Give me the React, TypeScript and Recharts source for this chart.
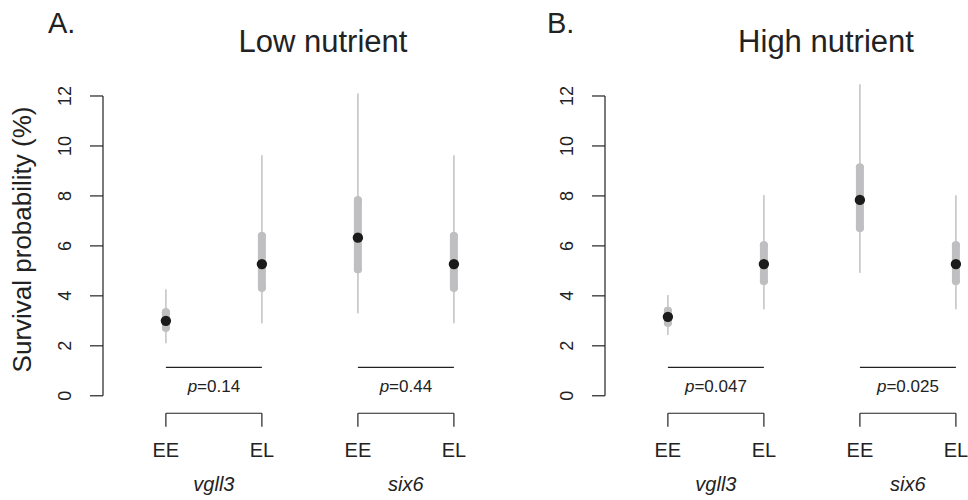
import { ScatterChart, Scatter, XAxis, YAxis, ErrorBar, ReferenceLine } from 'recharts';

const FONT = '"Liberation Sans", Arial, Helvetica, sans-serif';

const X_POS = [1, 2, 3, 4];
const GROUPS = ['EE', 'EL', 'EE', 'EL'];
const GENES = ['vgll3', 'six6'];
const GENE_POS = [1.5, 3.5];
const Y_TICKS = [0, 2, 4, 6, 8, 10, 12];

// low nutrient: mean, 95% and 50% intervals (survival %)
const LOW_MEAN = [3.0, 5.27, 6.33, 5.27];
const LOW_LO95 = [2.1, 2.9, 3.3, 2.9];
const LOW_HI95 = [4.26, 9.63, 12.1, 9.63];
const LOW_LO50 = [2.72, 4.32, 5.06, 4.32];
const LOW_HI50 = [3.34, 6.4, 7.83, 6.4];
const LOW_P = ['0.14', '0.44'];

// high nutrient
const HIGH_MEAN = [3.16, 5.27, 7.84, 5.27];
const HIGH_LO95 = [2.43, 3.46, 4.92, 3.46];
const HIGH_HI95 = [4.03, 8.03, 12.47, 8.03];
const HIGH_LO50 = [2.92, 4.59, 6.72, 4.59];
const HIGH_HI50 = [3.4, 6.03, 9.14, 6.03];
const HIGH_P = ['0.047', '0.025'];

const PANEL_W = 466;
const PANEL_H = 500;
const X_DOMAIN: [number, number] = [0.345, 4.126];
const Y_DOMAIN: [number, number] = [-1.25, 12.6];

// where the comparison line and the bracket sit (data units)
const P_LINE_Y = 1.14;
const BRACKET_Y = -0.7;
const BRACKET_FOOT = -1.24;

const THIN = '#cbcbcb';
const THICK = '#bfbfc2';
const INK = '#222';

function buildRows(mean: number[], lo95: number[], hi95: number[], lo50: number[], hi50: number[]) {
  return X_POS.map((x, i) => ({
    x,
    m: mean[i],
    e95: [mean[i] - lo95[i], hi95[i] - mean[i]],
    e50: [mean[i] - lo50[i], hi50[i] - mean[i]],
  }));
}

const Dot = (p: any) => <circle cx={p.cx} cy={p.cy} r={5.2} fill="#1b1b1b" />;

const YTick = ({ x, y, payload }: any) => (
  <text
    x={x - 25}
    y={y}
    transform={`rotate(-90, ${x - 25}, ${y})`}
    textAnchor="middle"
    dominantBaseline="central"
    fontSize={18}
    fontFamily={FONT}
    fill={INK}
  >
    {payload.value}
  </text>
);

const XTick = ({ x, y, payload }: any) => {
  const v = payload.value;
  const gi = GENE_POS.indexOf(v);
  if (gi >= 0) {
    return (
      <text x={x} y={y + 64} textAnchor="middle" fontSize={20} fontStyle="italic" fontFamily={FONT} fill={INK}>
        {GENES[gi]}
      </text>
    );
  }
  const i = X_POS.indexOf(v);
  return (
    <text x={x} y={y + 29.5} textAnchor="middle" fontSize={20} fontFamily={FONT} fill={INK}>
      {GROUPS[i]}
    </text>
  );
};

const PLabel = ({ viewBox, p }: any) => (
  <text
    x={viewBox.x + viewBox.width / 2}
    y={viewBox.y + 24.5}
    textAnchor="middle"
    fontSize={17}
    fontFamily={FONT}
    fill={INK}
  >
    <tspan fontStyle="italic">p</tspan>={p}
  </text>
);

const YLabel = ({ viewBox }: any) => {
  const cx = viewBox.x + 22;
  const cy = viewBox.y + viewBox.height * 0.458;
  return (
    <text
      x={cx}
      y={cy}
      transform={`rotate(-90, ${cx}, ${cy})`}
      textAnchor="middle"
      dominantBaseline="central"
      fontSize={26}
      fontFamily={FONT}
      fill={INK}
    >
      Survival probability (%)
    </text>
  );
};

function Panel({ rows, pvals, showYLabel }: { rows: any[]; pvals: string[]; showYLabel: boolean }) {
  const pairs = [
    [X_POS[0], X_POS[1]],
    [X_POS[2], X_POS[3]],
  ];
  return (
    <ScatterChart width={PANEL_W} height={PANEL_H} margin={{ top: 81, right: 0, bottom: 0, left: 0 }}>
      <XAxis
        type="number"
        dataKey="x"
        domain={X_DOMAIN}
        allowDataOverflow
        ticks={[1, 1.5, 2, 3, 3.5, 4]}
        interval={0}
        axisLine={false}
        tickLine={false}
        tickSize={0}
        tickMargin={0}
        height={73}
        tick={<XTick />}
      />
      <YAxis
        type="number"
        dataKey="m"
        domain={Y_DOMAIN}
        allowDataOverflow
        ticks={Y_TICKS}
        interval={0}
        width={103}
        axisLine={false}
        tickLine={{ stroke: INK, strokeWidth: 1.2 }}
        tickSize={13}
        tickMargin={0}
        tick={<YTick />}
        label={showYLabel ? <YLabel /> : undefined}
      />
      {/* R-style axis line, only over 0..12 */}
      <ReferenceLine
        segment={[
          { x: X_DOMAIN[0], y: 0 },
          { x: X_DOMAIN[0], y: 12 },
        ]}
        stroke={INK}
        strokeWidth={1.2}
        ifOverflow="visible"
      />
      {pairs.map(([a, b], k) => (
        <ReferenceLine
          key={`p${k}`}
          segment={[
            { x: a, y: P_LINE_Y },
            { x: b, y: P_LINE_Y },
          ]}
          stroke={INK}
          strokeWidth={1.2}
          ifOverflow="visible"
          label={<PLabel p={pvals[k]} />}
        />
      ))}
      {pairs.map(([a, b], k) => [
        <ReferenceLine
          key={`bh${k}`}
          segment={[
            { x: a, y: BRACKET_Y },
            { x: b, y: BRACKET_Y },
          ]}
          stroke={INK}
          strokeWidth={1.2}
          ifOverflow="visible"
        />,
        <ReferenceLine
          key={`bl${k}`}
          segment={[
            { x: a, y: BRACKET_Y },
            { x: a, y: BRACKET_FOOT },
          ]}
          stroke={INK}
          strokeWidth={1.2}
          ifOverflow="visible"
        />,
        <ReferenceLine
          key={`br${k}`}
          segment={[
            { x: b, y: BRACKET_Y },
            { x: b, y: BRACKET_FOOT },
          ]}
          stroke={INK}
          strokeWidth={1.2}
          ifOverflow="visible"
        />,
      ])}
      <Scatter data={rows} dataKey="m" shape={<Dot />} isAnimationActive={false}>
        <ErrorBar dataKey="e95" direction="y" width={0} stroke={THIN} strokeWidth={1.8} isAnimationActive={false} />
        <ErrorBar
          dataKey="e50"
          direction="y"
          width={0}
          stroke={THICK}
          strokeWidth={8}
          strokeLinecap="round"
          isAnimationActive={false}
        />
      </Scatter>
    </ScatterChart>
  );
}

export default function App() {
  const low = buildRows(LOW_MEAN, LOW_LO95, LOW_HI95, LOW_LO50, LOW_HI50);
  const high = buildRows(HIGH_MEAN, HIGH_LO95, HIGH_HI95, HIGH_LO50, HIGH_HI50);
  return (
    <div style={{ position: 'absolute', left: 0, top: 0, width: 968, height: 500, background: '#fff' }}>
      <div style={{ position: 'absolute', left: 0, top: 0 }}>
        <Panel rows={low} pvals={LOW_P} showYLabel />
      </div>
      <div style={{ position: 'absolute', left: 502, top: 0 }}>
        <Panel rows={high} pvals={HIGH_P} showYLabel={false} />
      </div>
      <svg
        width={968}
        height={500}
        style={{ position: 'absolute', left: 0, top: 0, pointerEvents: 'none' }}
        fontFamily={FONT}
        fill={INK}
      >
        <text x={48} y={33} fontSize={29}>A.</text>
        <text x={323} y={52} fontSize={31} textAnchor="middle">Low nutrient</text>
        <text x={547} y={33} fontSize={29}>B.</text>
        <text x={826} y={52} fontSize={31} textAnchor="middle">High nutrient</text>
      </svg>
    </div>
  );
}
